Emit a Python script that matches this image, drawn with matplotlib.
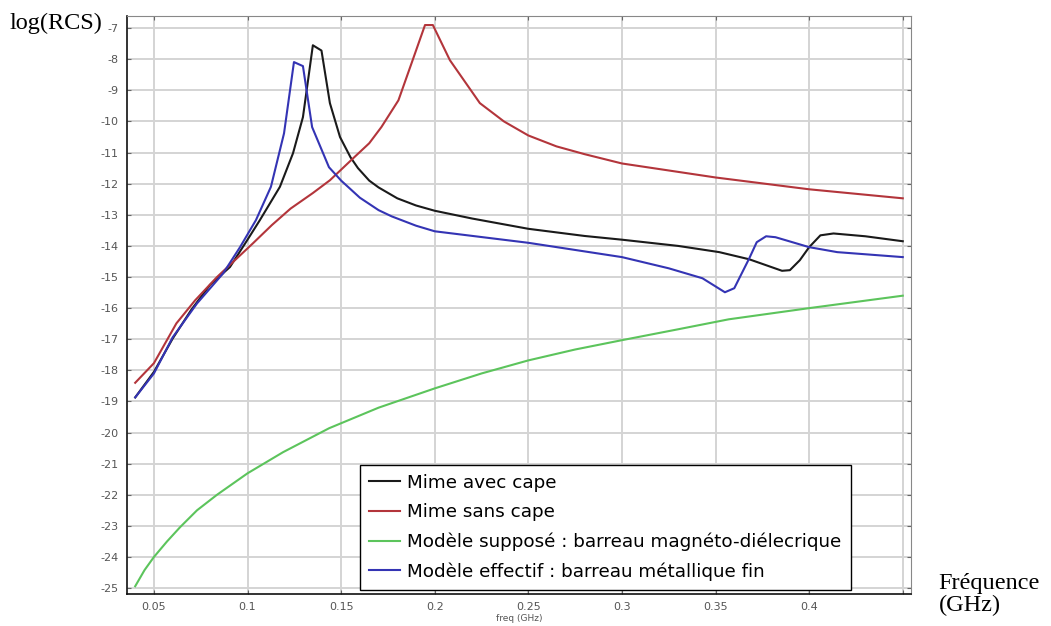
import numpy as np
import matplotlib
matplotlib.use('Agg')
import matplotlib.pyplot as plt

plt.rcParams['axes.unicode_minus'] = False

# data (freq in GHz, log(RCS))
f_avec = [0.04, 0.05, 0.06, 0.07, 0.08, 0.0906, 0.1, 0.1066, 0.1173, 0.1243,
          0.1296, 0.1325, 0.1349, 0.1395, 0.144, 0.1494, 0.155, 0.159, 0.165,
          0.17, 0.18, 0.19, 0.2, 0.22, 0.25, 0.28, 0.3, 0.33, 0.352, 0.368,
          0.3855, 0.3897, 0.395, 0.40, 0.406, 0.413, 0.43, 0.45]
v_avec = [-18.87, -18.05, -16.98, -16.05, -15.25, -14.68, -13.8, -13.17, -12.1,
          -11.02, -9.86, -8.6, -7.55, -7.72, -9.41, -10.5, -11.15, -11.5,
          -11.9, -12.12, -12.47, -12.7, -12.87, -13.12, -13.45, -13.68, -13.8,
          -14.0, -14.2, -14.43, -14.8, -14.78, -14.46, -14.04, -13.66, -13.6,
          -13.69, -13.85]

f_sans = [0.04, 0.05, 0.062, 0.072, 0.0837, 0.103, 0.113, 0.123, 0.1349, 0.144,
          0.157, 0.165, 0.1715, 0.1806, 0.1876, 0.1948, 0.199, 0.2081, 0.2241,
          0.237, 0.25, 0.265, 0.28, 0.3, 0.35, 0.4, 0.45]
v_sans = [-18.4, -17.77, -16.49, -15.75, -15.0, -13.91, -13.33, -12.8, -12.3,
          -11.89, -11.15, -10.7, -10.18, -9.32, -8.13, -6.9, -6.9, -8.03,
          -9.41, -10.0, -10.45, -10.8, -11.05, -11.35, -11.8, -12.18, -12.47]

f_suppose = [0.04, 0.045, 0.05, 0.057, 0.064, 0.073, 0.0837, 0.1, 0.119,
             0.1436, 0.17, 0.2, 0.225, 0.25, 0.275, 0.3, 0.33, 0.357, 0.4, 0.45]
v_suppose = [-24.94, -24.42, -24.0, -23.5, -23.04, -22.5, -22.0, -21.31,
             -20.63, -19.86, -19.2, -18.58, -18.1, -17.68, -17.33, -17.03,
             -16.68, -16.36, -16.0, -15.6]

f_effectif = [0.04, 0.05, 0.06, 0.073, 0.087, 0.096, 0.1045, 0.1125, 0.1195,
              0.1248, 0.1296, 0.1345, 0.1435, 0.15, 0.16, 0.17, 0.177, 0.19,
              0.2, 0.25, 0.3, 0.325, 0.343, 0.355, 0.36, 0.368, 0.372, 0.377,
              0.382, 0.4, 0.415, 0.45]
v_effectif = [-18.87, -18.1, -16.94, -15.85, -14.88, -14.04, -13.17, -12.1,
              -10.38, -8.09, -8.22, -10.18, -11.47, -11.9, -12.45, -12.85,
              -13.05, -13.35, -13.53, -13.9, -14.36, -14.72, -15.04, -15.49,
              -15.36, -14.4, -13.88, -13.69, -13.72, -14.04, -14.2, -14.36]

labels = ['Mime avec cape', 'Mime sans cape',
          'Modèle supposé : barreau magnéto-diélecrique',
          'Modèle effectif : barreau métallique fin']
colors = ['#1a1a1a', '#b3353b', '#5cc45c', '#3434b4']

xticks = [0.05, 0.1, 0.15, 0.2, 0.25, 0.3, 0.35, 0.4, 0.45]
xticklabels = ['0.05', '0.1', '0.15', '0.2', '0.25', '0.3', '0.35', '0.4', '']
yticks = list(range(-25, -6))

fig = plt.figure(figsize=(10.51, 6.26), dpi=100)
ax = fig.add_axes([0.1208, 0.0511, 0.746, 0.9233])

series = [(f_avec, v_avec), (f_sans, v_sans), (f_suppose, v_suppose), (f_effectif, v_effectif)]
for (fx, vy), lab, c in zip(series, labels, colors):
    ax.plot(fx, vy, color=c, lw=1.5, label=lab)

ax.set_xlim(0.0356, 0.4544)
ax.set_ylim(-25.19, -6.61)
ax.set_xticks(xticks)
ax.set_xticklabels(xticklabels)
ax.set_yticks(yticks)
ax.grid(True, color='#d4d4d4', lw=1.4)
ax.set_axisbelow(True)
ax.tick_params(direction='in', top=True, right=True, length=3, labelsize=8,
               labelcolor='#555555', color='#666666', pad=6)
for s in ['top', 'right']:
    ax.spines[s].set_color('#888888')
for s in ['left', 'bottom']:
    ax.spines[s].set_color('#111111')
    ax.spines[s].set_linewidth(1.2)

ax.set_xlabel('freq (GHz)', fontsize=6.5, color='#555555', labelpad=1)

leg = ax.legend(loc='lower left', bbox_to_anchor=(0.297, 0.007), fontsize=13.2,
                fancybox=False, framealpha=1, edgecolor='black',
                handlelength=1.7, handletextpad=0.4, labelspacing=0.62,
                borderpad=0.5, borderaxespad=0)
leg.get_frame().set_linewidth(1.0)

fig.text(0.009, 0.963, 'log(RCS)', family='Liberation Serif', fontsize=17.5, va='center')
fig.text(0.893, 0.051, 'Fréquence\n(GHz)', family='Liberation Serif', fontsize=17.5,
         va='center', linespacing=1.05)

fig.savefig('out.png', dpi=100)
